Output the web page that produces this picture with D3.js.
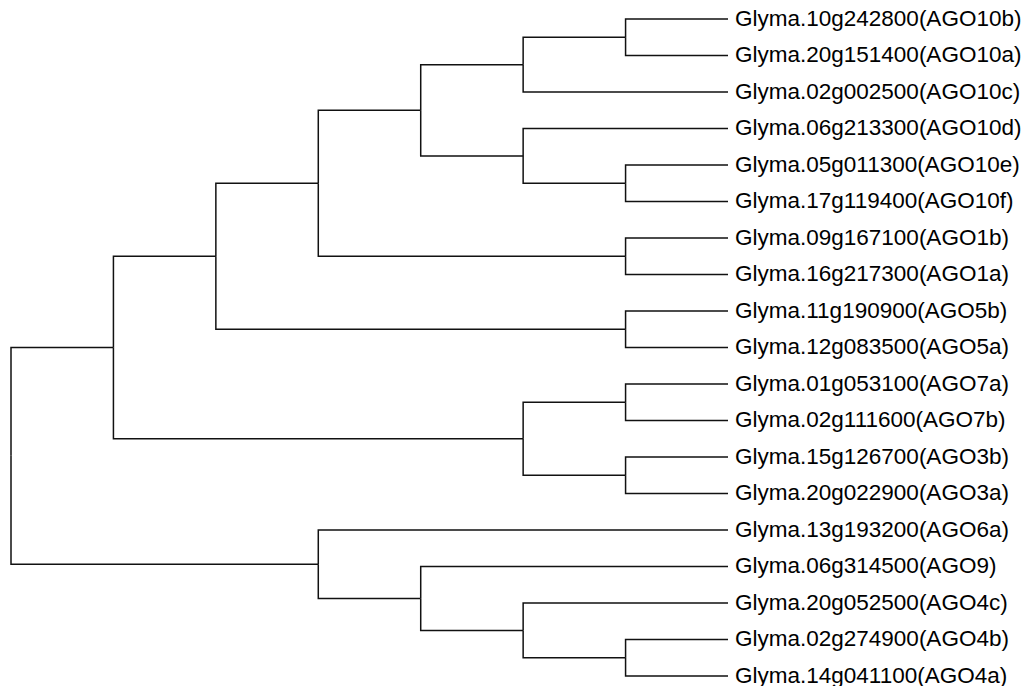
<!DOCTYPE html>
<html>
<head>
<meta charset="utf-8">
<script src="https://cdn.jsdelivr.net/npm/d3@7"></script>
<style>
  html, body { margin: 0; padding: 0; background: #fff; }
  svg { display: block; }
  .link { fill: none; stroke: #111; stroke-width: 1.5; }
  .leaf-label { font-family: "Liberation Sans", Arial, sans-serif; font-size: 22.5px; fill: #000; }
</style>
</head>
<body>
<svg id="chart" width="1028" height="686"></svg>
<script>
// Gene identifiers of the soybean Argonaute family, in tree order (top to bottom)
const geneIds = [
  "Glyma.10g242800", "Glyma.20g151400", "Glyma.02g002500", "Glyma.06g213300",
  "Glyma.05g011300", "Glyma.17g119400", "Glyma.09g167100", "Glyma.16g217300",
  "Glyma.11g190900", "Glyma.12g083500", "Glyma.01g053100", "Glyma.02g111600",
  "Glyma.15g126700", "Glyma.20g022900", "Glyma.13g193200", "Glyma.06g314500",
  "Glyma.20g052500", "Glyma.02g274900", "Glyma.14g041100"
];
const agoNames = [
  "AGO10b", "AGO10a", "AGO10c", "AGO10d", "AGO10e", "AGO10f", "AGO1b", "AGO1a",
  "AGO5b", "AGO5a", "AGO7a", "AGO7b", "AGO3b", "AGO3a", "AGO6a", "AGO9",
  "AGO4c", "AGO4b", "AGO4a"
];
// Tree topology as nested lists of leaf indices
const topology = [
  [
    [
      [
        [
          [[0, 1], 2],
          [3, [4, 5]]
        ],
        [6, 7]
      ],
      [8, 9]
    ],
    [[10, 11], [12, 13]]
  ],
  [14, [15, [16, [17, 18]]]]
];

function toNode(t) {
  return Array.isArray(t)
    ? { children: t.map(toNode) }
    : { name: geneIds[t] + "(" + agoNames[t] + ")" };
}

const root = d3.hierarchy(toNode(topology));
d3.cluster().nodeSize([1, 1]).separation(() => 1)(root);

const leaves = root.leaves();
const yScale = d3.scaleLinear()
  .domain(d3.extent(leaves, d => d.x))
  .range([19, 676]);
const xScale = d3.scaleLinear()
  .domain([0, d3.max(leaves, d => d.y)])
  .range([11, 728]);

const svg = d3.select("#chart");

// Elbow links: vertical at the parent, then horizontal out to the child
svg.append("g")
  .selectAll("path")
  .data(root.links())
  .join("path")
  .attr("class", "link")
  .attr("d", l => {
    const px = xScale(l.source.y), py = yScale(l.source.x);
    const cx = xScale(l.target.y), cy = yScale(l.target.x);
    return `M${px},${py}V${cy}H${cx}`;
  });

svg.append("g")
  .selectAll("text")
  .data(leaves)
  .join("text")
  .attr("class", "leaf-label")
  .attr("x", d => xScale(d.y) + 7)
  .attr("y", d => yScale(d.x))
  .attr("dy", "0.31em")
  .text(d => d.data.name);
</script>
</body>
</html>
